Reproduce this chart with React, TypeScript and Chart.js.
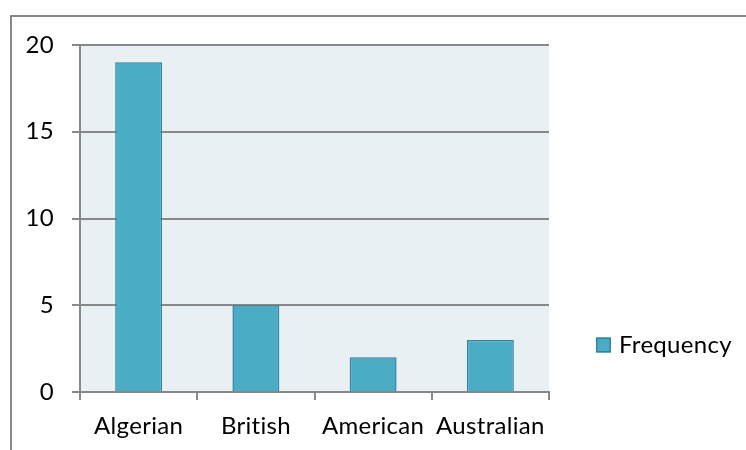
import React, { useEffect, useRef } from 'react';
import { Chart, registerables } from 'chart.js';

Chart.register(...registerables);

const categories = ['Algerian', 'British', 'American', 'Australian'];
const frequency = [19, 5, 2, 3];
const seriesName = 'Frequency';
const yMin = 0;
const yMax = 20;
const yStep = 5;

const FONT_FAMILY = 'Lato, "Open Sans", sans-serif';
const FONT_SIZE = 24;
const BAR_FILL = '#4BACC6';
const BAR_EDGE = '#31849B';
const PLOT_BG = '#E9F0F3';
const GRID = '#888888';

export default function App() {
  const ref = useRef<HTMLCanvasElement>(null);

  useEffect(() => {
    document.body.style.margin = '0';
    const canvas = ref.current;
    if (!canvas) return;

    const plotBg = {
      id: 'plotBg',
      beforeDraw(chart: any) {
        const { ctx, chartArea: a } = chart;
        try {
          (ctx as any).letterSpacing = '0.3px';
        } catch (e) {}
        ctx.save();
        ctx.fillStyle = PLOT_BG;
        ctx.fillRect(a.left, a.top, a.right - a.left, a.bottom - a.top);
        ctx.restore();
      },
    };

    const sideLegend = {
      id: 'sideLegend',
      afterDraw(chart: any) {
        const { ctx, chartArea: a } = chart;
        ctx.save();
        chart.data.datasets.forEach((ds: any) => {
          const bx = a.right + 47;
          const cy = 345;
          const s = 15;
          ctx.fillStyle = ds.backgroundColor;
          ctx.fillRect(bx, cy - s / 2, s, s);
          ctx.strokeStyle = ds.borderColor;
          ctx.lineWidth = 1.5;
          ctx.strokeRect(bx + 0.75, cy - s / 2 + 0.75, s - 1.5, s - 1.5);
          ctx.fillStyle = '#000';
          ctx.font = `${FONT_SIZE}px ${FONT_FAMILY}`;
          ctx.textBaseline = 'middle';
          ctx.textAlign = 'left';
          ctx.fillText(ds.label, bx + s + 8, cy);
        });
        ctx.restore();
      },
    };

    const chart = new Chart(canvas, {
      type: 'bar',
      data: {
        labels: categories,
        datasets: [
          {
            label: seriesName,
            data: frequency,
            backgroundColor: BAR_FILL,
            borderColor: BAR_EDGE,
            borderWidth: 1.5,
            categoryPercentage: 1,
            barPercentage: 0.4,
          },
        ],
      },
      options: {
        responsive: false,
        animation: false,
        devicePixelRatio: 1,
        layout: { padding: { left: 0, top: 45, right: 197, bottom: 0 } },
        plugins: {
          legend: { display: false },
          tooltip: { enabled: false },
          title: { display: false },
        },
        scales: {
          x: {
            grid: {
              display: true,
              drawOnChartArea: false,
              drawTicks: true,
              tickLength: 8,
              color: GRID,
              lineWidth: 2,
              offset: true,
            },
            border: { display: true, color: GRID, width: 2 },
            ticks: {
              color: '#000',
              font: { family: FONT_FAMILY, size: FONT_SIZE },
              padding: 12,
              maxRotation: 0,
              autoSkip: false,
            },
            afterFit(scale: any) {
              scale.height = 58;
            },
          },
          y: {
            min: yMin,
            max: yMax,
            grid: {
              color: GRID,
              lineWidth: 2,
              drawTicks: true,
              tickLength: 8,
            },
            border: { display: true, color: GRID, width: 2 },
            ticks: {
              stepSize: yStep,
              color: '#000',
              font: { family: FONT_FAMILY, size: FONT_SIZE },
              padding: 18,
            },
            afterFit(scale: any) {
              scale.width = 80;
            },
          },
        },
      },
      plugins: [plotBg, sideLegend],
    });

    return () => chart.destroy();
  }, []);

  return (
    <div style={{ position: 'absolute', left: 0, top: 0, width: 746, height: 450, overflow: 'hidden', background: '#fff' }}>
      <div
        style={{
          position: 'absolute',
          left: 10,
          top: 15,
          width: 800,
          height: 600,
          borderLeft: '2px solid #888888',
          borderTop: '2px solid #888888',
        }}
      />
      <canvas ref={ref} width={746} height={450} style={{ position: 'absolute', left: 0, top: 0 }} />
    </div>
  );
}
